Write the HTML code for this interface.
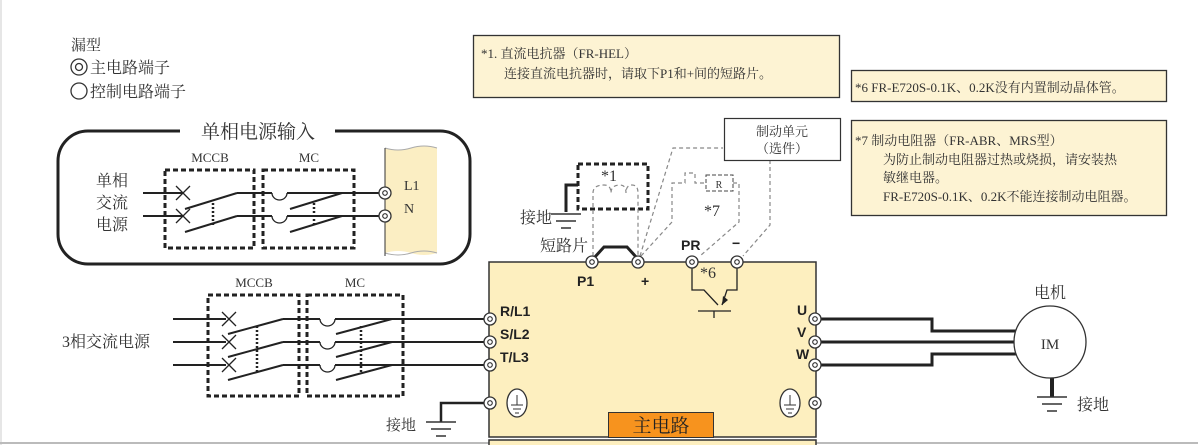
<!DOCTYPE html>
<html><head><meta charset="utf-8"><style>
html,body{margin:0;padding:0;background:#fff;}
svg{display:block;}
text{font-family:"Liberation Serif","Noto Serif CJK SC","Noto Sans CJK SC",serif;fill:#333;}
.s{font-family:"Liberation Sans","Noto Sans CJK SC",sans-serif;font-weight:bold;fill:#222;}
</style></head><body>
<svg width="1198" height="445" viewBox="0 0 1198 445" xmlns="http://www.w3.org/2000/svg">
<defs>
<g id="term"><circle r="6" fill="#fff" stroke="#333" stroke-width="1.3"/><circle r="2.3" fill="none" stroke="#333" stroke-width="1.1"/></g>
<g id="gnd" stroke="#333" stroke-width="1.5"><line x1="-15" y1="0" x2="15" y2="0"/><line x1="-10" y1="7" x2="10" y2="7"/><line x1="-5" y1="14" x2="5" y2="14"/></g>
<g id="pe"><ellipse rx="10" ry="14" fill="#fff" stroke="#333" stroke-width="1.3"/><line x1="0" y1="-8" x2="0" y2="2" stroke="#333"/><line x1="-6" y1="2" x2="6" y2="2" stroke="#333"/><line x1="-4" y1="6" x2="4" y2="6" stroke="#333"/><line x1="-2" y1="10" x2="2" y2="10" stroke="#333"/></g>
</defs>
<line x1="1" y1="0" x2="1" y2="445" stroke="#ccc"/>
<line x1="0" y1="443" x2="1198" y2="443" stroke="#bbb" stroke-width="2"/>

<!-- legend -->
<text x="71" y="50" font-size="15">漏型</text>
<circle cx="79" cy="67" r="8" fill="none" stroke="#333" stroke-width="1.3"/><circle cx="79" cy="67" r="3.5" fill="none" stroke="#333" stroke-width="1.3"/>
<text x="90" y="73" font-size="16">主电路端子</text>
<circle cx="79" cy="91" r="8" fill="none" stroke="#333" stroke-width="1.3"/>
<text x="90" y="97" font-size="16">控制电路端子</text>

<!-- note boxes -->
<rect x="473.5" y="35.5" width="366" height="62" fill="#fdf3d3" stroke="#333" stroke-width="1.3"/>
<text x="481" y="58" font-size="13">*1. 直流电抗器（FR-HEL）</text>
<text x="504" y="78" font-size="13">连接直流电抗器时，请取下P1和+间的短路片。</text>
<rect x="851.5" y="70.5" width="315" height="31" fill="#fdf3d3" stroke="#333" stroke-width="1.3"/>
<text x="855" y="92" font-size="13">*6  FR-E720S-0.1K、0.2K没有内置制动晶体管。</text>
<rect x="851.5" y="120.5" width="315" height="95" fill="#fdf3d3" stroke="#333" stroke-width="1.3"/>
<text x="855" y="145" font-size="13">*7  制动电阻器（FR-ABR、MRS型）</text>
<text x="883" y="164" font-size="13">为防止制动电阻器过热或烧损，请安装热</text>
<text x="883" y="182" font-size="13">敏继电器。</text>
<text x="883" y="201" font-size="13">FR-E720S-0.1K、0.2K不能连接制动电阻器。</text>

<!-- single-phase box -->
<rect x="58" y="131" width="412" height="133" rx="30" fill="none" stroke="#222" stroke-width="3"/>
<rect x="180" y="120" width="155" height="20" fill="#fff"/>
<text x="258" y="138" font-size="19" text-anchor="middle">单相电源输入</text>
<path d="M385,148 q13,4 26,0 t26,0 V253 q-13,4 -26,0 t-26,0 Z" fill="#fbeec3"/>
<path d="M385,148 q13,4 26,0 t26,0 M385,253 q13,4 26,0 t26,0" fill="none" stroke="#aaa"/>
<line x1="385" y1="148" x2="385" y2="256" stroke="#333"/>
<text x="404" y="190" font-size="14">L1</text>
<text x="404" y="213" font-size="14">N</text>
<text x="112" y="186" font-size="16" text-anchor="middle">单相</text>
<text x="112" y="208" font-size="16" text-anchor="middle">交流</text>
<text x="112" y="230" font-size="16" text-anchor="middle">电源</text>
<text x="210" y="162" font-size="13" text-anchor="middle">MCCB</text>
<text x="309" y="162" font-size="13" text-anchor="middle">MC</text>
<g fill="none" stroke="#222" stroke-width="3" stroke-dasharray="5,3">
<rect x="165" y="170" width="89" height="78"/><rect x="263" y="170" width="91" height="78"/>
<rect x="208" y="295" width="91" height="101"/><rect x="307" y="295" width="96" height="101"/>
</g>
<g stroke="#222" stroke-width="2" fill="none">
<path d="M143,193 H183 M237,193 H272 M287,193 H342 M342,193 H380"/>
<path d="M143,216 H183 M237,216 H272 M287,216 H342 M342,216 H380"/>
<path d="M185,209 L237,193 M185,232 L237,216 M290,209 L342,193 M290,232 L342,216"/>
<path d="M272,193 a7.5,7 0 0 0 15,0 M272,216 a7.5,7 0 0 0 15,0" stroke-width="1.3"/>
<path d="M176,186 l14,14 M190,186 l-14,14 M176,209 l14,14 M190,209 l-14,14" stroke-width="1.3"/>
<path d="M213,203 V226 M314,203 V226" stroke-width="2.5" stroke-dasharray="2,2"/>
</g>
<use href="#term" x="385" y="193"/><use href="#term" x="385" y="216"/>

<!-- main box -->
<rect x="489" y="262" width="327" height="175" fill="#fdefbf" stroke="#333" stroke-width="1.5"/>
<rect x="489" y="440" width="327" height="6" fill="#fdefbf" stroke="#333" stroke-width="1.5"/>
<rect x="608.5" y="412.5" width="105" height="25" fill="#f7931e" stroke="#333"/>
<text x="661" y="432" font-size="19" text-anchor="middle" font-family="Liberation Sans,Noto Sans CJK SC,sans-serif" style="fill:#222">主电路</text>

<!-- 3 phase -->
<text x="62" y="347" font-size="16">3相交流电源</text>
<text x="254" y="287" font-size="13" text-anchor="middle">MCCB</text>
<text x="355" y="287" font-size="13" text-anchor="middle">MC</text>
<g stroke="#222" stroke-width="2" fill="none">
<path d="M173,319 H226 M283,319 H320 M335,319 H484"/>
<path d="M173,342 H226 M283,342 H320 M335,342 H484"/>
<path d="M173,365 H226 M283,365 H320 M335,365 H484"/>
<path d="M228,334 L283,319 M228,357 L283,342 M228,380 L283,365 M336,334 L392,319 M336,357 L392,342 M336,380 L392,365"/>
<path d="M320,319 a7.5,7 0 0 0 15,0 M320,342 a7.5,7 0 0 0 15,0 M320,365 a7.5,7 0 0 0 15,0" stroke-width="1.3"/>
<path d="M222,312 l14,14 M236,312 l-14,14 M222,335 l14,14 M236,335 l-14,14 M222,358 l14,14 M236,358 l-14,14" stroke-width="1.3"/>
<path d="M257,326 V373 M361,326 V373" stroke-width="2.5" stroke-dasharray="2,2"/>
<path d="M484,403 H441 V422" stroke-width="2.5"/>
</g>
<use href="#gnd" x="441" y="422"/>
<text x="386" y="430" font-size="15">接地</text>
<use href="#term" x="490" y="319"/><use href="#term" x="490" y="342"/><use href="#term" x="490" y="365"/><use href="#term" x="490" y="403"/>
<use href="#pe" x="517" y="403"/>
<text class="s" x="500" y="316" font-size="14">R/L1</text>
<text class="s" x="500" y="339" font-size="14">S/L2</text>
<text class="s" x="500" y="362" font-size="14">T/L3</text>

<!-- outputs -->
<g stroke="#222" stroke-width="3" fill="none">
<path d="M821,319 H932 V331 H1016"/>
<path d="M821,342 H1016"/>
<path d="M821,365 H932 V354 H1016"/>
<path d="M1052,378 V397" stroke-width="4"/>
</g>
<circle cx="1050" cy="342" r="36" fill="#fff" stroke="#333" stroke-width="1.3"/>
<text x="1050" y="349" font-size="15" text-anchor="middle">IM</text>
<text x="1050" y="298" font-size="16" text-anchor="middle">电机</text>
<use href="#gnd" x="1052" y="397"/>
<text x="1077" y="410" font-size="16">接地</text>
<use href="#term" x="815" y="319"/><use href="#term" x="815" y="342"/><use href="#term" x="815" y="365"/><use href="#term" x="815" y="403"/>
<use href="#pe" x="790" y="403"/>
<text class="s" x="797" y="315" font-size="14">U</text>
<text class="s" x="797" y="337" font-size="14">V</text>
<text class="s" x="796" y="359" font-size="14">W</text>

<!-- top: reactor, brake -->
<rect x="578" y="164" width="70" height="45" fill="none" stroke="#222" stroke-width="3" stroke-dasharray="5,3"/>
<text x="601" y="181" font-size="16">*1</text>
<path d="M578,185 H566 V212" stroke="#222" stroke-width="3" fill="none"/>
<use href="#gnd" x="566" y="214"/>
<text x="520" y="223" font-size="16">接地</text>
<g stroke="#888" stroke-width="1.2" fill="none" stroke-dasharray="4,3">
<path d="M593,256 V193 Q593,185 604,185 Q611,185 611,193 Q611,185 620,185 Q626,185 626,193 Q626,185 632,185 Q638,185 638,193 V256"/>
<path d="M640,256 L673,148 H723"/>
<path d="M641,256 L672,222 V183 H685 V173 H695 V183 H705"/>
<path d="M733,183 H739 V222 L700,256"/>
<path d="M770,160 V225 L743,256"/>
</g>
<rect x="706" y="175" width="27" height="16" fill="none" stroke="#444" stroke-dasharray="4,2"/>
<text x="719" y="188" font-size="10" text-anchor="middle">R</text>
<text x="704" y="216" font-size="16">*7</text>
<rect x="724.5" y="118.5" width="116" height="42" fill="#fff" stroke="#333" stroke-width="1.2"/>
<text x="782" y="136" font-size="13" text-anchor="middle">制动单元</text>
<text x="782" y="153" font-size="13" text-anchor="middle">（选件）</text>
<text x="540" y="251" font-size="16">短路片</text>
<path d="M594,258 L604,247 H627 L637,258" stroke="#222" stroke-width="3" fill="none"/>
<text class="s" x="577" y="286" font-size="14">P1</text>
<text class="s" x="641" y="286" font-size="14">+</text>
<text class="s" x="681" y="250" font-size="14">PR</text>
<text class="s" x="732" y="248" font-size="14">−</text>
<text x="700" y="278" font-size="16">*6</text>
<g stroke="#222" stroke-width="1.3" fill="none">
<path d="M692,262 V290 H704 L718,305"/>
<path d="M737,262 V290 H727 L722,305"/>
<path d="M698,311 H731 M714,311 V318"/>
</g>
<path d="M722,305 l1,-9 l5,4 z" fill="#222"/>
<use href="#term" x="592" y="262"/><use href="#term" x="638" y="262"/><use href="#term" x="692" y="262"/><use href="#term" x="737" y="262"/>
</svg>
</body></html>
